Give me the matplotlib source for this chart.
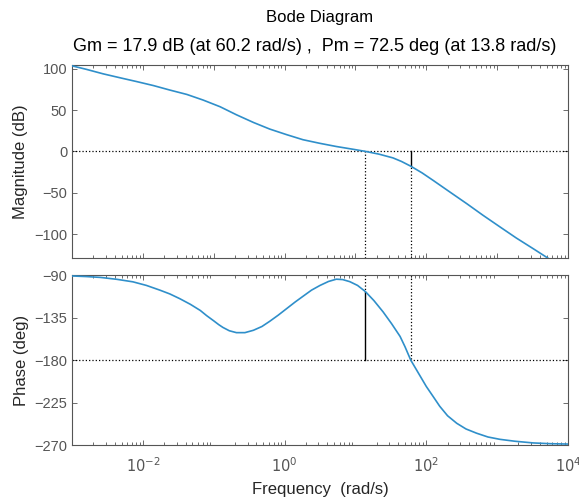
# Bode diagram with gain / phase margins
import numpy as np
import matplotlib
matplotlib.use('Agg')
import matplotlib.pyplot as plt
from matplotlib.ticker import LogLocator, FixedLocator, NullFormatter

plt.rcParams['font.family'] = ['Liberation Sans', 'DejaVu Sans']

# magnitude curve: log10(w) and dB
mag_logw = [-3.0, -2.8, -2.56, -2.3, -2.09, -1.85, -1.62, -1.38, -1.15, -0.91,
            -0.68, -0.44, -0.21, 0.03, 0.26, 0.50, 0.73, 0.97, 1.14, 1.33,
            1.53, 1.65, 1.78, 1.94, 2.10, 2.33, 2.57, 2.80, 3.04, 3.27, 3.51, 3.75]
mag_db = [103.5, 99.3, 93.8, 88.6, 84.5, 79.6, 74.2, 68.9, 62.1, 54.0,
          44.3, 35.0, 27.0, 20.2, 14.1, 9.7, 5.9, 2.5, 0.0, -3.3,
          -7.9, -12.2, -17.9, -26.0, -35.3, -49.0, -63.2, -77.3, -91.4, -104.8, -117.8, -131.0]

# phase curve: log10(w) and degrees
ph_logw = [-3.0, -2.8, -2.6, -2.37, -2.14, -1.95, -1.76, -1.62, -1.48, -1.33,
           -1.19, -1.1, -1.0, -0.93, -0.87, -0.78, -0.68, -0.56, -0.44, -0.32,
           -0.21, -0.09, 0.03, 0.15, 0.26, 0.38, 0.50, 0.62, 0.73, 0.82,
           0.92, 1.03, 1.14, 1.26, 1.39, 1.51, 1.63, 1.70, 1.78, 1.89,
           2.0, 2.1, 2.19, 2.3, 2.43, 2.56, 2.71, 2.87, 3.04, 3.25,
           3.51, 3.75, 4.0]
ph_deg = [-91, -91.6, -92.5, -94.5, -97.2, -101, -106, -110, -115, -121,
          -127.5, -133, -138.5, -142.5, -145.5, -149, -151, -151, -148.5, -144.5,
          -139, -132.5, -125.5, -118.5, -112.5, -106, -101, -96.8, -94.4, -94.8,
          -97, -101, -107.5, -117, -129, -141.5, -155, -166, -180, -194,
          -208, -219, -229, -239, -247, -253, -257.5, -261.5, -264, -266,
          -267.8, -268.6, -269]

# margins
gm_db, wcg = 17.9, 60.2
pm_deg, wcp = 72.5, 13.8

mag_ticks = [100, 50, 0, -50, -100]
ph_ticks = [-90, -135, -180, -225, -270]
x_labels = {1e-2: '$10^{-2}$', 1e0: '$10^{0}$', 1e2: '$10^{2}$', 1e4: '$10^{4}$'}

w_mag = 10 ** np.array(mag_logw)
w_ph = 10 ** np.array(ph_logw)

fig = plt.figure(figsize=(5.79, 4.97), dpi=100)
ax1 = fig.add_axes([0.1244, 0.4809, 0.8566, 0.3883])
ax2 = fig.add_axes([0.1244, 0.1046, 0.8566, 0.3420])

blue = '#2f8fca'
spine_c = '#555555'
tick_c = '#555555'

for ax in (ax1, ax2):
    ax.set_xscale('log')
    ax.set_xlim(1e-3, 1e4)
    ax.xaxis.set_major_locator(LogLocator(base=10, numticks=20))
    ax.xaxis.set_minor_locator(LogLocator(base=10, subs=np.arange(2, 10), numticks=20))
    ax.xaxis.set_minor_formatter(NullFormatter())
    ax.tick_params(which='both', direction='in', top=True, right=True,
                   colors=tick_c, labelsize=10.5, width=0.6)
    ax.tick_params(which='major', length=3.5)
    ax.tick_params(which='minor', length=2)
    for s in ax.spines.values():
        s.set_color(spine_c)
        s.set_linewidth(0.8)

# magnitude
ax1.plot(w_mag, mag_db, color=blue, lw=1.2, zorder=3)
ax1.set_ylim(-129, 104.5)
ax1.yaxis.set_major_locator(FixedLocator(mag_ticks))
ax1.set_xticklabels([])
ax1.axhline(0, color='k', ls=':', lw=0.9)
ax1.plot([wcp, wcp], [-129, 0], color='k', ls=':', lw=0.9)
ax1.plot([wcg, wcg], [-129, -gm_db], color='k', ls=':', lw=0.9)
ax1.plot([wcg, wcg], [0, -gm_db], color='k', lw=1.0)
ax1.set_ylabel('Magnitude (dB)', fontsize=12, color='#262626')

# phase
ax2.plot(w_ph, ph_deg, color=blue, lw=1.2, zorder=3)
ax2.set_ylim(-270, -90)
ax2.yaxis.set_major_locator(FixedLocator(ph_ticks))
ax2.axhline(-180, color='k', ls=':', lw=0.9)
ax2.plot([wcp, wcp], [-90, -180 + pm_deg], color='k', ls=':', lw=0.9)
ax2.plot([wcp, wcp], [-180, -180 + pm_deg], color='k', lw=1.0)
ax2.plot([wcg, wcg], [-90, -180], color='k', ls=':', lw=0.9)
ax2.set_xticks(list(x_labels.keys()))
ax2.set_xticklabels(list(x_labels.values()))
ax2.xaxis.set_major_locator(FixedLocator(list(x_labels.keys())))
ax2.tick_params(axis='x', which='major', pad=8)
ax2.set_ylabel('Phase (deg)', fontsize=12, color='#262626')
ax2.set_xlabel('Frequency  (rad/s)', fontsize=12, color='#262626', labelpad=5)

fig.text(0.5527, 0.964, 'Bode Diagram', ha='center', va='center', fontsize=12)
fig.text(0.5427, 0.907,
         'Gm = %.1f dB (at %.1f rad/s) ,  Pm = %.1f deg (at %.1f rad/s)'
         % (gm_db, wcg, pm_deg, wcp),
         ha='center', va='center', fontsize=13)

fig.savefig('out.png', dpi=100)
